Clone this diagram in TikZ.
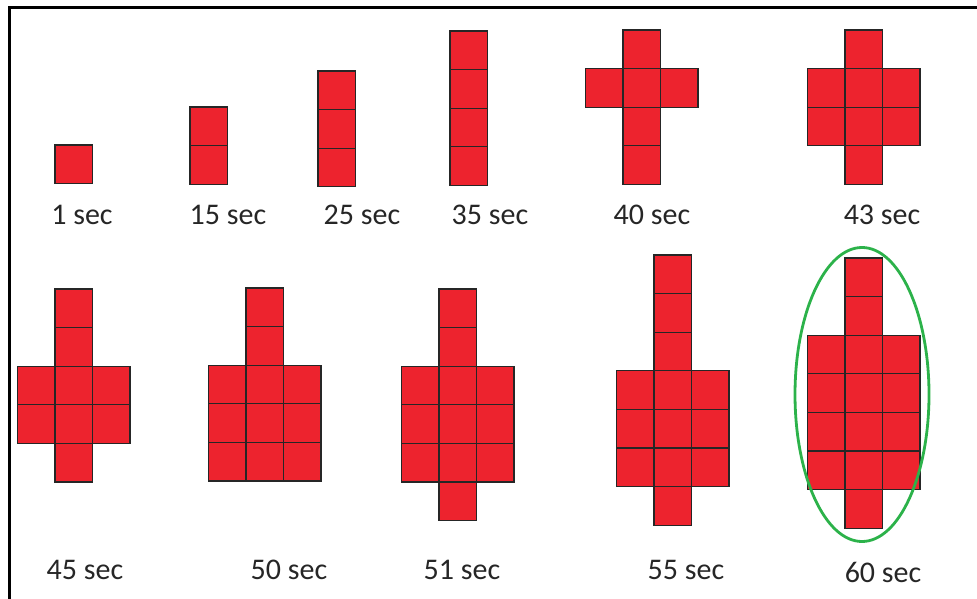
\documentclass[tikz,border=0pt]{standalone}
\usepackage{fontspec}
\setmainfont{Carlito}
\usepackage{xcolor}
\definecolor{cellRed}{RGB}{237, 35, 46}
\definecolor{ringGreen}{RGB}{44, 178, 74}
\definecolor{labelDark}{RGB}{38, 38, 38}
\usepackage{tikz}
\usetikzlibrary{positioning}

% one block of cells: column x of the middle column, top y, list of col/row offsets
\newcommand{\cellgroup}[3]{%
    \foreach \c/\r in {#3}
        \draw[cellBox] ({#1+\c*37.5},{#2+\r*38.6}) rectangle ++(37.5,38.6);%
}

\begin{document}
\begin{tikzpicture}[
    x=0.5pt, y=-0.5pt,
    cellBox/.style={
        draw=black!85, line width=0.55pt, fill=cellRed
    },
    timeLabel/.style={
        font=\fontsize{15}{18}\selectfont, text=labelDark, inner sep=0pt
    },
    frameLine/.style={
        draw=black, line width=1.5pt
    },
    focusRing/.style={
        draw=ringGreen, line width=1.4pt
    }
]
    \useasboundingbox (0,0) rectangle (977,598);

    % Frame (right and bottom edges cut off)
    \draw[frameLine] (9,610) -- (9,8) -- (990,8);

    % Top row
    \cellgroup{55}{145}{0/0}
    \cellgroup{190}{107}{0/0, 0/1}
    \cellgroup{318}{71}{0/0, 0/1, 0/2}
    \cellgroup{450}{31}{0/0, 0/1, 0/2, 0/3}
    \cellgroup{623}{30}{0/0, -1/1, 0/1, 1/1, 0/2, 0/3}
    \cellgroup{845}{30}{0/0, -1/1, 0/1, 1/1, -1/2, 0/2, 1/2, 0/3}

    % Bottom row
    \cellgroup{55}{289}{0/0, 0/1, -1/2, 0/2, 1/2, -1/3, 0/3, 1/3, 0/4}
    \cellgroup{246}{288}{0/0, 0/1, -1/2, 0/2, 1/2, -1/3, 0/3, 1/3, -1/4, 0/4, 1/4}
    \cellgroup{439}{289}{0/0, 0/1, -1/2, 0/2, 1/2, -1/3, 0/3, 1/3, -1/4, 0/4, 1/4, 0/5}
    \cellgroup{654}{255}{0/0, 0/1, 0/2, -1/3, 0/3, 1/3, -1/4, 0/4, 1/4, -1/5, 0/5, 1/5, 0/6}
    \cellgroup{845}{258}{0/0, 0/1, -1/2, 0/2, 1/2, -1/3, 0/3, 1/3, -1/4, 0/4, 1/4, -1/5, 0/5, 1/5, 0/6}

    % Ring round the last stage
    \draw[focusRing] (862,394.5) ellipse [x radius=67, y radius=147];

    % Labels
    \node[timeLabel] (t01) at (82,215) {1 sec};
    \node[timeLabel] (t15) at (228,215) {15 sec};
    \node[timeLabel] (t25) at (362,215) {25 sec};
    \node[timeLabel] (t35) at (490,215) {35 sec};
    \node[timeLabel] (t40) at (652,215) {40 sec};
    \node[timeLabel] (t43) at (882,215) {43 sec};

    \node[timeLabel] (t45) at (85,570) {45 sec};
    \node[timeLabel] (t50) at (289,570) {50 sec};
    \node[timeLabel] (t51) at (462,570) {51 sec};
    \node[timeLabel] (t55) at (686,570) {55 sec};
    \node[timeLabel] (t60) at (883,572) {60 sec};

\end{tikzpicture}
\end{document}
